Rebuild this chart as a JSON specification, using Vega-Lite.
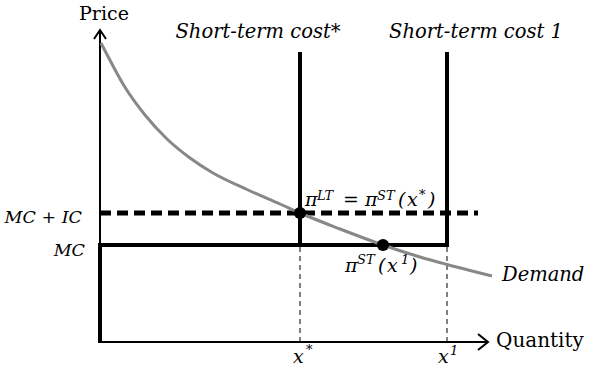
{
  "$schema": "https://vega.github.io/schema/vega-lite/v6.json",
  "width": 589,
  "height": 369,
  "autosize": {"type": "fit", "contains": "padding"},
  "padding": 0,
  "background": "white",
  "config": {"view": {"stroke": null}},
  "datasets": {
    "segs": [
      {"kind": "axis", "seg": "yaxis", "i": 0, "q": 0, "p": -1},
      {"kind": "axis", "seg": "yaxis", "i": 1, "q": 0, "p": 311},
      {"kind": "axis", "seg": "xaxis", "i": 0, "q": -1, "p": 0},
      {"kind": "axis", "seg": "xaxis", "i": 1, "q": 387, "p": 0},
      {"kind": "axis", "seg": "yarrow", "i": 0, "q": -6, "p": 303},
      {"kind": "axis", "seg": "yarrow", "i": 1, "q": 0, "p": 312},
      {"kind": "axis", "seg": "yarrow", "i": 2, "q": 6, "p": 303},
      {"kind": "axis", "seg": "xarrow", "i": 0, "q": 378, "p": 8},
      {"kind": "axis", "seg": "xarrow", "i": 1, "q": 388, "p": 0},
      {"kind": "axis", "seg": "xarrow", "i": 2, "q": 378, "p": -8},
      {"kind": "thick", "seg": "cost1", "i": 0, "q": 0, "p": -1},
      {"kind": "thick", "seg": "cost1", "i": 1, "q": 0, "p": 97},
      {"kind": "thick", "seg": "cost1", "i": 2, "q": 347, "p": 97},
      {"kind": "thick", "seg": "cost1", "i": 3, "q": 347, "p": 290},
      {"kind": "thick", "seg": "coststar", "i": 0, "q": 200, "p": 97},
      {"kind": "thick", "seg": "coststar", "i": 1, "q": 200, "p": 290},
      {"kind": "dashthick", "seg": "ic", "i": 0, "q": 0, "p": 129},
      {"kind": "dashthick", "seg": "ic", "i": 1, "q": 378, "p": 129},
      {"kind": "dashthin", "seg": "d1", "i": 0, "q": 200, "p": 0},
      {"kind": "dashthin", "seg": "d1", "i": 1, "q": 200, "p": 97},
      {"kind": "dashthin", "seg": "d2", "i": 0, "q": 347, "p": 0},
      {"kind": "dashthin", "seg": "d2", "i": 1, "q": 347, "p": 97}
    ],
    "curve": [
      {"q": 1, "p": 299},
      {"q": 12, "p": 278},
      {"q": 23, "p": 258},
      {"q": 45, "p": 227},
      {"q": 67, "p": 203},
      {"q": 90, "p": 184},
      {"q": 113, "p": 169},
      {"q": 147, "p": 152.5},
      {"q": 180, "p": 138},
      {"q": 200, "p": 129},
      {"q": 240, "p": 113},
      {"q": 283, "p": 97},
      {"q": 320, "p": 85},
      {"q": 347, "p": 77.5},
      {"q": 380, "p": 69},
      {"q": 392, "p": 66}
    ],
    "points": [
      {"q": 200, "p": 129},
      {"q": 283, "p": 97}
    ],
    "labels": [
      {"kind": "title_c", "txt": "Price", "q": 4, "p": 322},
      {"kind": "title_l", "txt": "Quantity", "q": 396, "p": -5},
      {"kind": "ital_c", "txt": "Short-term cost*", "q": 158, "p": 304},
      {"kind": "ital_c", "txt": "Short-term cost 1", "q": 376, "p": 304},
      {"kind": "ital_r", "txt": "MC + IC", "q": -18, "p": 119},
      {"kind": "ital_r", "txt": "MC", "q": -15, "p": 86},
      {"kind": "ital_lb", "txt": "Demand", "q": 402, "p": 61},
      {"kind": "ital_l", "txt": "π", "q": 205, "p": 136},
      {"kind": "ital_l", "txt": "=", "q": 243, "p": 136},
      {"kind": "ital_l", "txt": "π", "q": 265, "p": 136},
      {"kind": "ital_l", "txt": "(", "q": 298, "p": 136},
      {"kind": "ital_l", "txt": "x", "q": 307, "p": 136},
      {"kind": "ital_l", "txt": ")", "q": 328, "p": 136},
      {"kind": "sup", "txt": "LT", "q": 217, "p": 142},
      {"kind": "sup", "txt": "ST", "q": 277, "p": 142},
      {"kind": "sup", "txt": "*", "q": 319, "p": 143},
      {"kind": "ital_l", "txt": "π", "q": 245, "p": 70},
      {"kind": "ital_l", "txt": "(", "q": 278, "p": 70},
      {"kind": "ital_l", "txt": "x", "q": 287, "p": 70},
      {"kind": "ital_l", "txt": ")", "q": 310, "p": 70},
      {"kind": "sup", "txt": "ST", "q": 257, "p": 78},
      {"kind": "sup", "txt": "1", "q": 301, "p": 78},
      {"kind": "ital_l", "txt": "x", "q": 193, "p": -21},
      {"kind": "sup", "txt": "*", "q": 206, "p": -12},
      {"kind": "ital_l", "txt": "x", "q": 338, "p": -21},
      {"kind": "sup", "txt": "1", "q": 350, "p": -13}
    ]
  },
  "encoding": {
    "x": {"field": "q", "type": "quantitative", "scale": {"domain": [-100, 489], "nice": false, "zero": false}, "axis": null},
    "y": {"field": "p", "type": "quantitative", "scale": {"domain": [-27, 342], "nice": false, "zero": false}, "axis": null}
  },
  "layer": [
    {
      "data": {"name": "segs"},
      "transform": [{"filter": "datum.kind === 'dashthin'"}],
      "mark": {"type": "line", "color": "black", "strokeWidth": 1, "strokeDash": [5, 4]},
      "encoding": {"detail": {"field": "seg"}, "order": {"field": "i"}}
    },
    {
      "data": {"name": "segs"},
      "transform": [{"filter": "datum.kind === 'axis'"}],
      "mark": {"type": "line", "color": "black", "strokeWidth": 2, "strokeJoin": "miter"},
      "encoding": {"detail": {"field": "seg"}, "order": {"field": "i"}}
    },
    {
      "data": {"name": "segs"},
      "transform": [{"filter": "datum.kind === 'thick'"}],
      "mark": {"type": "line", "color": "black", "strokeWidth": 4, "strokeJoin": "miter", "strokeCap": "butt"},
      "encoding": {"detail": {"field": "seg"}, "order": {"field": "i"}}
    },
    {
      "data": {"name": "segs"},
      "transform": [{"filter": "datum.kind === 'dashthick'"}],
      "mark": {"type": "line", "color": "black", "strokeWidth": 5, "strokeDash": [11, 6]},
      "encoding": {"detail": {"field": "seg"}, "order": {"field": "i"}}
    },
    {
      "data": {"name": "curve"},
      "mark": {"type": "line", "color": "#888888", "strokeWidth": 3, "interpolate": "monotone"},
      "encoding": {}
    },
    {
      "data": {"name": "points"},
      "mark": {"type": "circle", "color": "black", "opacity": 1, "size": 150},
      "encoding": {}
    },
    {
      "data": {"name": "labels"},
      "transform": [{"filter": "datum.kind === 'title_c'"}],
      "mark": {"type": "text", "font": "DejaVu Serif", "fontSize": 19, "align": "center", "baseline": "alphabetic", "color": "black"},
      "encoding": {"text": {"field": "txt"}}
    },
    {
      "data": {"name": "labels"},
      "transform": [{"filter": "datum.kind === 'title_l'"}],
      "mark": {"type": "text", "font": "DejaVu Serif", "fontSize": 20, "align": "left", "baseline": "alphabetic", "color": "black"},
      "encoding": {"text": {"field": "txt"}}
    },
    {
      "data": {"name": "labels"},
      "transform": [{"filter": "datum.kind === 'ital_c'"}],
      "mark": {"type": "text", "font": "DejaVu Serif", "fontStyle": "italic", "fontSize": 19.5, "align": "center", "baseline": "alphabetic", "color": "black"},
      "encoding": {"text": {"field": "txt"}}
    },
    {
      "data": {"name": "labels"},
      "transform": [{"filter": "datum.kind === 'ital_r'"}],
      "mark": {"type": "text", "font": "DejaVu Serif", "fontStyle": "italic", "fontSize": 17.5, "align": "right", "baseline": "alphabetic", "color": "black"},
      "encoding": {"text": {"field": "txt"}}
    },
    {
      "data": {"name": "labels"},
      "transform": [{"filter": "datum.kind === 'ital_lb'"}],
      "mark": {"type": "text", "font": "DejaVu Serif", "fontStyle": "italic", "fontSize": 19.5, "align": "left", "baseline": "alphabetic", "color": "black"},
      "encoding": {"text": {"field": "txt"}}
    },
    {
      "data": {"name": "labels"},
      "transform": [{"filter": "datum.kind === 'ital_l'"}],
      "mark": {"type": "text", "font": "DejaVu Serif", "fontStyle": "italic", "fontSize": 19, "align": "left", "baseline": "alphabetic", "color": "black"},
      "encoding": {"text": {"field": "txt"}}
    },
    {
      "data": {"name": "labels"},
      "transform": [{"filter": "datum.kind === 'sup'"}],
      "mark": {"type": "text", "font": "DejaVu Serif", "fontStyle": "italic", "fontSize": 13, "align": "left", "baseline": "alphabetic", "color": "black"},
      "encoding": {"text": {"field": "txt"}}
    }
  ]
}
